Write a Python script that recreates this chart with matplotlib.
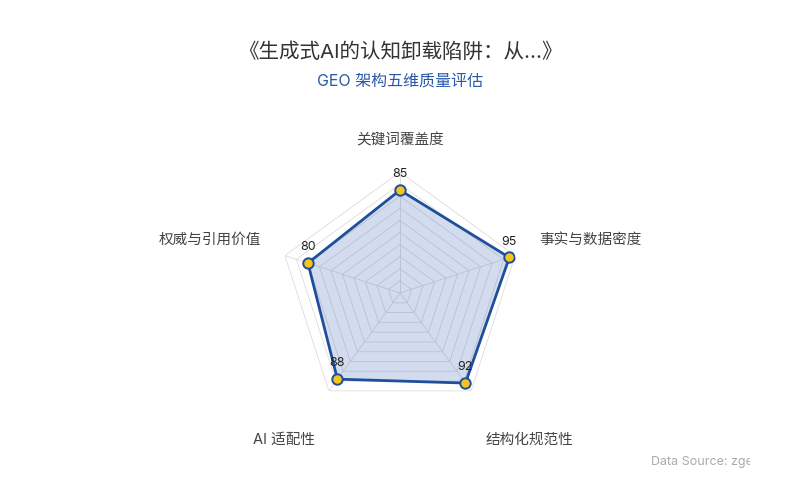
import numpy as np
import matplotlib.pyplot as plt
from matplotlib.transforms import Bbox, TransformedBbox

plt.rcParams['font.family'] = ['Inter', 'Noto Sans CJK SC', 'DejaVu Sans']

# ==========================
# 数据
# ==========================
categories = ["关键词覆盖度", "事实与数据密度", "结构化规范性", "AI 适配性", "权威与引用价值"]
scores = [85, 95, 92, 88, 80]
ring_levels = [10, 20, 30, 40, 50, 60, 70, 80, 90, 100]
r_max = 100

title = "《生成式AI的认知卸载陷阱：从...》"
subtitle = "GEO 架构五维质量评估"
source = "Data Source: zgeo"

line_color = "#1f4e9c"
fill_color = "#3a64b4"
point_color = "#f5c518"

n = len(categories)
angles = np.linspace(0, 2 * np.pi, n, endpoint=False)
angles_closed = np.append(angles, angles[0])
scores_closed = np.append(scores, scores[0])

fig = plt.figure(figsize=(8, 5), dpi=100)

# 画布中心 (400, 293)，半径 121 px
cx, cy, rad = 400 / 800, 1 - 293 / 500, 121
ax = fig.add_axes([cx - rad / 800, cy - rad / 500, 2 * rad / 800, 2 * rad / 500],
                  projection="polar")
ax.set_theta_offset(np.pi / 2)
ax.set_theta_direction(-1)
ax.set_ylim(0, r_max)
ax.grid(False)
ax.spines["polar"].set_visible(False)
ax.set_xticks([])
ax.set_yticks([])
ax.patch.set_alpha(0)

# 多边形网格
for lv in ring_levels:
    ax.plot(angles_closed, [lv] * (n + 1), color="#dcdcdc", lw=0.6, zorder=1)
for a in angles:
    ax.plot([a, a], [0, r_max], color="#dcdcdc", lw=0.6, zorder=1)

# 数据区域
ax.fill(angles_closed, scores_closed, color=fill_color, alpha=0.22, zorder=2, lw=0)
ax.plot(angles_closed, scores_closed, color=line_color, lw=2.0, zorder=3)
ax.plot(angles, scores, "o", ms=7.5, mfc=point_color, mec=line_color, mew=1.4, zorder=4)

for a, s in zip(angles, scores):
    ax.annotate(str(s), (a, s), xytext=(0, 7), textcoords="offset points",
                ha="center", va="bottom", fontsize=9, color="#222", zorder=5)

# 维度标签（放在外圈顶点外侧）
px = 0.72  # 像素 -> 点
for a, c in zip(angles, categories):
    x, y = np.sin(a), np.cos(a)
    if abs(x) < 0.1:
        ha, off = "center", (0, 32)
    elif y > 0:
        ha = "left" if x > 0 else "right"
        off = (np.sign(x) * 24, 16)
    else:
        ha = "left" if x > 0 else "right"
        off = (np.sign(x) * 14, -49)
    ax.annotate(c, (a, r_max), xytext=(off[0] * px, off[1] * px),
                textcoords="offset points", ha=ha, va="center",
                fontsize=10.5, color="#444", annotation_clip=False)

fig.text(0.5, 1 - 52 / 500, title, ha="center", va="center", fontsize=14.8, color="#333")
fig.text(0.5, 1 - 81 / 500, subtitle, ha="center", va="center", fontsize=11.5, color="#2a58a8")

t = fig.text(651 / 800, 1 - 462 / 500, source, ha="left", va="center", fontsize=9, color="#aaaaaa")
t.set_clip_box(TransformedBbox(Bbox([[0, 0], [750 / 800, 1]]), fig.transFigure))
t.set_clip_on(True)

plt.savefig("out.png", dpi=100)
plt.close()
